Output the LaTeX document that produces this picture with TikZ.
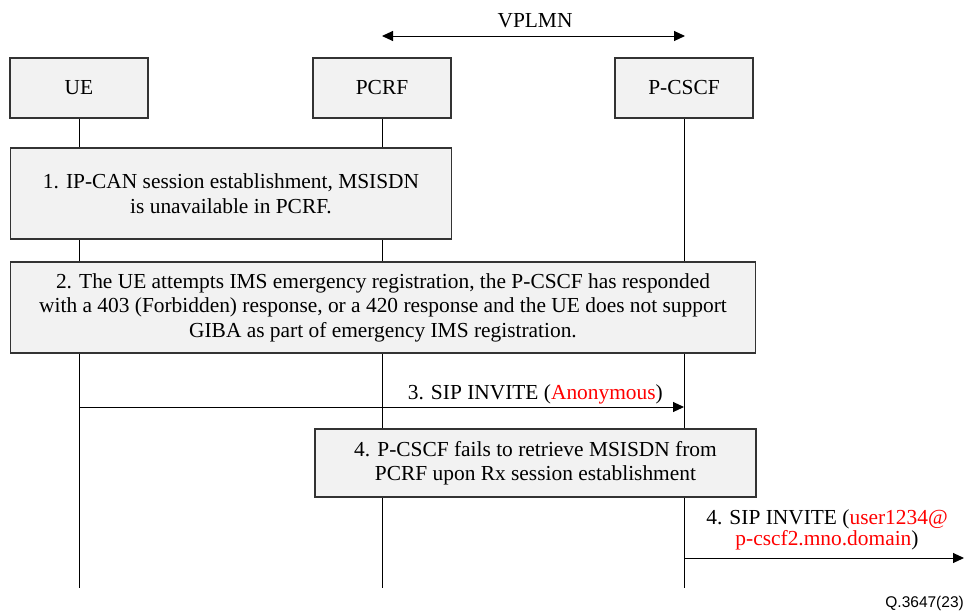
\documentclass[tikz,border=0pt]{standalone}
\usepackage{fontspec}
\setmainfont{Liberation Serif}
\newfontfamily\figsans{Liberation Sans}
\usetikzlibrary{arrows.meta,backgrounds}
\definecolor{boxfill}{HTML}{F2F2F2}
\definecolor{boxline}{HTML}{333333}
\definecolor{redtxt}{HTML}{FF0000}
\tikzset{
  x=1pt,y=-1pt,
  every node/.style={font=\rmfamily\fontsize{21.4}{24.5}\selectfont, inner sep=0pt},
  entity/.style={draw=boxline, fill=boxfill, line width=1.4pt, minimum width=138pt, minimum height=60pt},
  stepbox/.style={draw=boxline, fill=boxfill, line width=1.4pt, align=center},
  life/.style={line width=0.9pt, black},
  msg/.style={line width=1pt, -{Triangle[length=11pt,width=10pt]}},
}
\begin{document}
\begin{tikzpicture}
\useasboundingbox (0,0) rectangle (965,613);
% entities
\node[entity] (ue) at (79,88) {UE};
\node[entity] (pcrf) at (382,88) {PCRF};
\node[entity] (pcscf) at (684,88) {P-CSCF};
% lifeline ends
\coordinate (ueend) at (79,588);
\coordinate (pcrfend) at (382,588);
\coordinate (pcscfend) at (684,588);
% VPLMN
\coordinate (vl) at (382,36);
\coordinate (vr) at (685,36);
\draw[line width=1pt, {Triangle[length=11pt,width=10pt]}-{Triangle[length=11pt,width=10pt]}] (vl) -- (vr);
\node[anchor=base] (vplmn) at (535,27) {VPLMN};
% step boxes
\node[stepbox, minimum width=441pt, minimum height=91pt] (s1) at (231,193.5)
  {1. IP-CAN session establishment, MSISDN\\is unavailable in PCRF.};
\node[stepbox, minimum width=745pt, minimum height=91pt] (s2) at (383,307.5)
  {2. The UE attempts IMS emergency registration, the P-CSCF has responded\\with a 403 (Forbidden) response, or a 420 response and the UE does not support\\GIBA as part of emergency IMS registration.};
\node[stepbox, minimum width=441pt, minimum height=68pt] (s4) at (535.5,463)
  {4. P-CSCF fails to retrieve MSISDN from\\PCRF upon Rx session establishment};
% lifelines
\begin{scope}[on background layer]
\draw[life] (ue.south) -- (ueend);
\draw[life] (pcrf.south) -- (pcrfend);
\draw[life] (pcscf.south) -- (pcscfend);
\end{scope}
% message 3
\coordinate (m3s) at (79,407);
\coordinate (m3e) at (684,407);
\draw[msg] (m3s) -- (m3e);
\node[anchor=base east] (m3l) at (663,399) {3. SIP INVITE (\textcolor{redtxt}{Anonymous})};
% message 4
\coordinate (m4s) at (684,558);
\coordinate (m4e) at (964,558);
\draw[msg] (m4s) -- (m4e);
\node[align=center, font=\rmfamily\fontsize{21.4}{21}\selectfont] (m4l) at (827,530)
  {4. SIP INVITE (\textcolor{redtxt}{user1234@}\\\textcolor{redtxt}{p-cscf2.mno.domain})};
% figure id
\node[anchor=east, font=\figsans\fontsize{15.5}{18}\selectfont] (fid) at (964,603) {Q.3647(23)};
\end{tikzpicture}
\end{document}
